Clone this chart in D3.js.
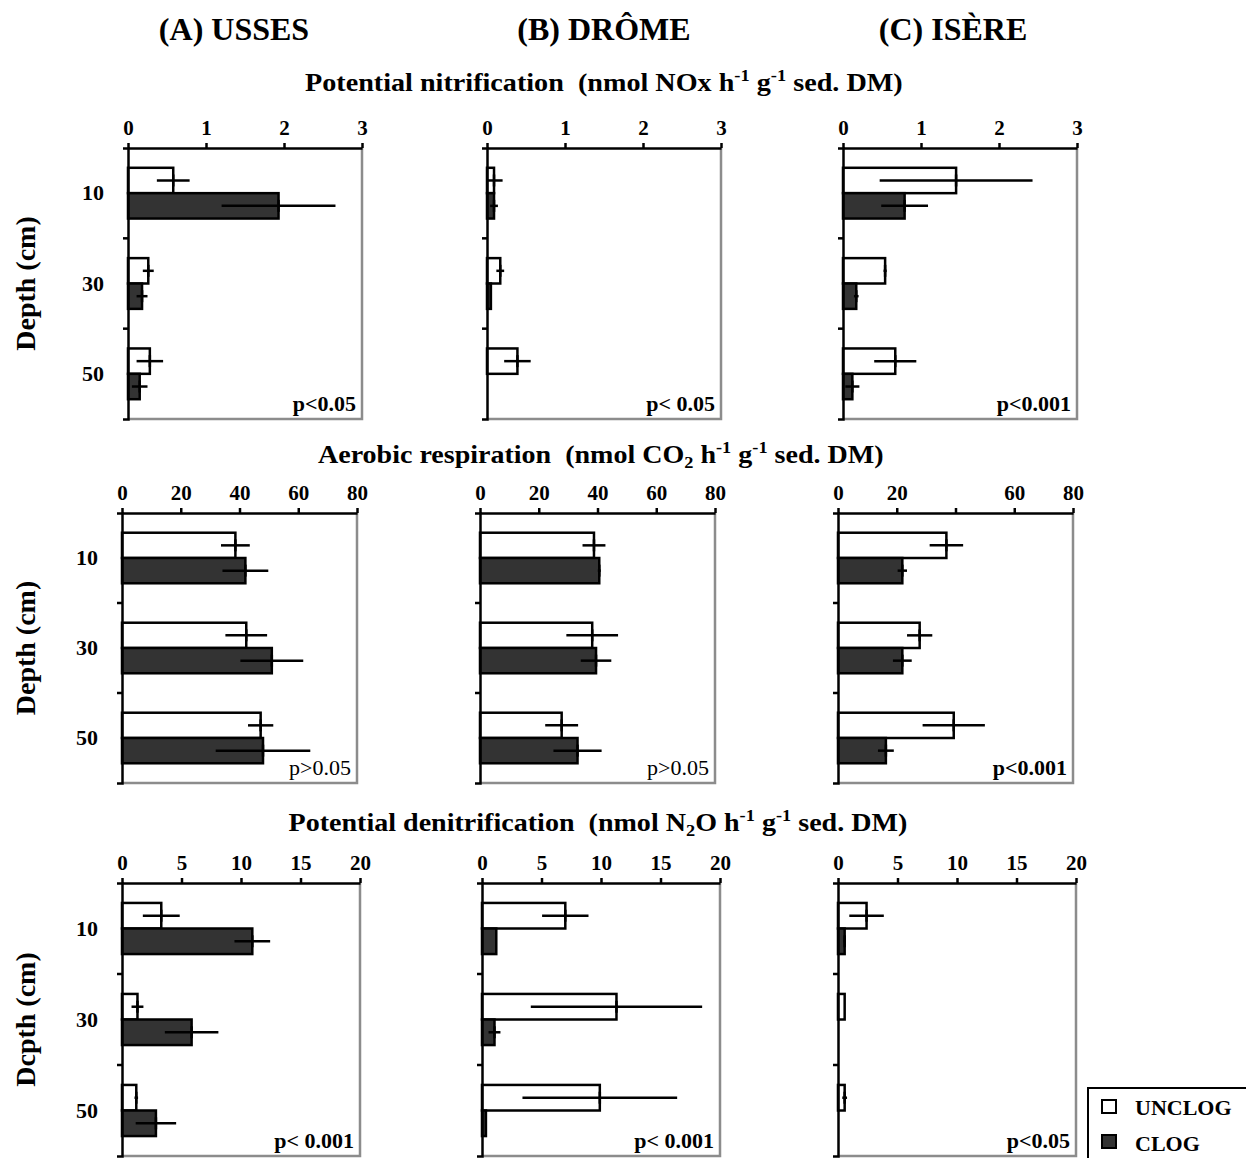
<!DOCTYPE html>
<html>
<head>
<meta charset="utf-8">
<script src="https://cdn.jsdelivr.net/npm/d3@7"></script>
<style>
    body { margin: 0; background: #fff; }
    text { font-family: "Liberation Serif", "Times New Roman", serif; font-weight: bold; fill: #000; }
</style>
</head>
<body>
<svg id="fig" width="1246" height="1158"></svg>
<script>
// Categories
const depths = ["10", "30", "50"];
const sites = ["(A) USSES", "(B) DRÔME", "(C) ISÈRE"];
const treatments = ["UNCLOG", "CLOG"];

// Potential nitrification, one array per site, values for 10 / 30 / 50 cm
const nitUnclog    = [[0.58, 0.26, 0.28], [0.09, 0.17, 0.39], [1.45, 0.54, 0.67]];
const nitUnclogErr = [[0.21, 0.07, 0.17], [0.11, 0.05, 0.17], [0.98, 0.02, 0.27]];
const nitClog      = [[1.93, 0.18, 0.15], [0.09, 0.05, 0], [0.79, 0.17, 0.12]];
const nitClogErr   = [[0.73, 0.07, 0.10], [0.05, 0, 0], [0.30, 0.03, 0.09]];

// Aerobic respiration
const respUnclog    = [[38.6, 42.3, 47.2], [38.8, 38.2, 27.8], [36.9, 27.8, 39.4]];
const respUnclogErr = [[4.9, 7.1, 4.3], [3.9, 8.8, 5.6], [5.7, 4.3, 10.6]];
const respClog      = [[42.0, 51.0, 48.0], [40.6, 39.5, 33.2], [21.9, 21.9, 16.3]];
const respClogErr   = [[7.8, 10.7, 16.1], [0.5, 5.2, 8.2], [1.6, 3.2, 2.7]];

// Potential denitrification
const denUnclog    = [[3.3, 1.3, 1.2], [7.0, 11.3, 9.9], [2.4, 0.56, 0.56]];
const denUnclogErr = [[1.55, 0.5, 0.15], [1.95, 7.2, 6.5], [1.45, 0, 0.2]];
const denClog      = [[10.95, 5.85, 2.85], [1.2, 1.05, 0.33], [0.56, 0, 0]];
const denClogErr   = [[1.5, 2.25, 1.7], [0, 0.5, 0], [0.1, 0, 0]];

// Tick labels
const nitTicks = [0, 1, 2, 3];
const respTicks = [0, 20, 40, 60, 80];
const respTickLabels = [["0", "20", "40", "60", "80"], ["0", "20", "40", "60", "80"], ["0", "20", "", "60", "80"]];
const denTicks = [0, 5, 10, 15, 20];

// Significance labels
const nitP = ["p<0.05", "p< 0.05", "p<0.001"];
const respP = ["p>0.05", "p>0.05", "p<0.001"];
const respPBold = [false, false, true];
const denP = ["p< 0.001", "p< 0.001", "p<0.05"];

const svg = d3.select("#fig");

// Layout of the three rows of panels
const rows = [
    {
        top: 148, h: 271, lefts: [128, 487, 843], w: 234, max: 3, ticks: nitTicks,
        labels: [nitTicks, nitTicks, nitTicks].map(t => t.map(String)),
        unclog: nitUnclog, unclogErr: nitUnclogErr, clog: nitClog, clogErr: nitClogErr,
        p: nitP, pBold: [true, true, true], ylab: "Depth (cm)",
        title: [["Potential nitrification  (nmol NOx h", 0], ["-1", 1], [" g", 0], ["-1", 1], [" sed. DM)", 0]],
        titleY: 91, titleX: 604, titleW: 598
    },
    {
        top: 513, h: 270, lefts: [122, 480, 838], w: 235, max: 80, ticks: respTicks,
        labels: respTickLabels,
        unclog: respUnclog, unclogErr: respUnclogErr, clog: respClog, clogErr: respClogErr,
        p: respP, pBold: respPBold, ylab: "Depth (cm)",
        title: [["Aerobic respiration  (nmol CO", 0], ["2", -1], [" h", 0], ["-1", 1], [" g", 0], ["-1", 1], [" sed. DM)", 0]],
        titleY: 463, titleX: 601, titleW: 566
    },
    {
        top: 883, h: 273, lefts: [122, 482, 838], w: 238, max: 20, ticks: denTicks,
        labels: [denTicks, denTicks, denTicks].map(t => t.map(String)),
        unclog: denUnclog, unclogErr: denUnclogErr, clog: denClog, clogErr: denClogErr,
        p: denP, pBold: [true, true, true], ylab: "Dcpth (cm)",
        title: [["Potential denitrification  (nmol N", 0], ["2", -1], ["O h", 0], ["-1", 1], [" g", 0], ["-1", 1], [" sed. DM)", 0]],
        titleY: 831, titleX: 598, titleW: 619
    }
];

// Site headers
const headerX = [234, 604, 953];
svg.selectAll(".site")
    .data(sites)
    .enter()
    .append("text")
    .attr("class", "site")
    .attr("x", (d, i) => headerX[i])
    .attr("y", 40)
    .attr("text-anchor", "middle")
    .style("font-size", "32px")
    .text(d => d);

function drawTitle(r) {
    let t = svg.append("text")
        .attr("y", r.titleY)
        .style("font-size", "26px")
        .style("white-space", "pre");
    let shift = 0;
    r.title.forEach(function(part) {
        let target = part[1] === 1 ? -10 : (part[1] === -1 ? 5 : 0);
        t.append("tspan")
            .attr("dy", target - shift)
            .style("font-size", part[1] === 0 ? "26px" : "17px")
            .text(part[0]);
        shift = target;
    });
    let len = t.node().getComputedTextLength();
    let s = r.titleW / len;
    t.attr("x", 0)
        .attr("transform", "translate(" + (r.titleX - r.titleW / 2) + ",0) scale(" + s + ",1)");
}

function drawPanel(r, col) {
    let w = r.w, h = r.h;
    let g = svg.append("g").attr("transform", "translate(" + r.lefts[col] + "," + r.top + ")");

    let x = d3.scaleLinear().domain([0, r.max]).range([0, w]);
    let yBand = d3.scaleBand().domain(depths).range([0, h]);
    let ySub = d3.scaleBand().domain(treatments).range([0, yBand.bandwidth()]).paddingOuter(0.78);

    let bars = [];
    depths.forEach(function(d, i) {
        bars.push({depth: d, t: "UNCLOG", m: r.unclog[col][i], e: r.unclogErr[col][i]});
        bars.push({depth: d, t: "CLOG", m: r.clog[col][i], e: r.clogErr[col][i]});
    });

    // Bars
    g.selectAll("rect.bar")
        .data(bars.filter(d => d.m > 0))
        .enter()
        .append("rect")
        .attr("class", "bar")
        .attr("x", x(0))
        .attr("y", d => yBand(d.depth) + ySub(d.t))
        .attr("width", d => x(d.m) - x(0))
        .attr("height", ySub.bandwidth())
        .attr("fill", d => d.t === "CLOG" ? "#333" : "#fff")
        .attr("stroke", "#000")
        .attr("stroke-width", 2.5);

    // Error bars (horizontal line plus a short mark at the mean)
    let errs = bars.filter(d => d.m > 0 && d.e > 0);
    let cy = d => yBand(d.depth) + ySub(d.t) + ySub.bandwidth() / 2;
    g.selectAll("line.err")
        .data(errs)
        .enter()
        .append("line")
        .attr("class", "err")
        .attr("x1", d => x(Math.max(0, d.m - d.e)))
        .attr("x2", d => x(d.m + d.e))
        .attr("y1", cy)
        .attr("y2", cy)
        .attr("stroke", "#000")
        .attr("stroke-width", 2.5);
    g.selectAll("line.mark")
        .data(errs)
        .enter()
        .append("line")
        .attr("class", "mark")
        .attr("x1", d => x(d.m))
        .attr("x2", d => x(d.m))
        .attr("y1", d => cy(d) - 6)
        .attr("y2", d => cy(d) + 6)
        .attr("stroke", "#000")
        .attr("stroke-width", 2.5);

    // Grey right and bottom frame
    g.append("path")
        .attr("d", "M" + w + ",0V" + h + "H0")
        .attr("fill", "none")
        .attr("stroke", "#8c8c8c")
        .attr("stroke-width", 2.5);

    // Top axis
    let labels = r.labels[col];
    let top = g.append("g")
        .call(d3.axisTop(x).tickValues(r.ticks).tickSize(5).tickSizeOuter(0).tickPadding(8)
            .tickFormat((d, i) => labels[i]));
    top.attr("font-family", null).attr("font-size", null);
    top.select(".domain").attr("stroke-width", 2.5);
    top.selectAll(".tick line").attr("stroke-width", 2.5);
    top.selectAll(".tick text").style("font-size", "21px");

    // Left axis: labels at band centres, ticks at band limits
    let left = g.append("g")
        .call(d3.axisLeft(yBand).tickSize(0).tickSizeOuter(5).tickPadding(24)
            .tickFormat(d => col === 0 ? d : ""));
    left.attr("font-family", null).attr("font-size", null);
    left.select(".domain").attr("stroke-width", 2.5);
    left.selectAll(".tick text").style("font-size", "22px");
    left.selectAll("line.sep")
        .data(depths.slice(1))
        .enter()
        .append("line")
        .attr("class", "sep")
        .attr("x1", -5)
        .attr("x2", 0)
        .attr("y1", d => yBand(d))
        .attr("y2", d => yBand(d))
        .attr("stroke", "#000")
        .attr("stroke-width", 2.5);

    // Significance
    g.append("text")
        .attr("x", w - 6)
        .attr("y", h - 8)
        .attr("text-anchor", "end")
        .style("font-size", "22px")
        .style("font-weight", r.pBold[col] ? "bold" : "normal")
        .style("white-space", "pre")
        .text(r.p[col]);
}

rows.forEach(function(r) {
    drawTitle(r);
    [0, 1, 2].forEach(c => drawPanel(r, c));
    svg.append("text")
        .attr("transform", "translate(35," + (r.top + r.h / 2) + ") rotate(-90)")
        .attr("text-anchor", "middle")
        .style("font-size", "28px")
        .text(r.ylab);
});

// Legend
let legend = svg.append("g").attr("transform", "translate(1088,1088)");
legend.append("rect")
    .attr("width", 170)
    .attr("height", 80)
    .attr("fill", "#fff")
    .attr("stroke", "#000")
    .attr("stroke-width", 2);
legend.selectAll("rect.key")
    .data(treatments)
    .enter()
    .append("rect")
    .attr("class", "key")
    .attr("x", 14)
    .attr("y", (d, i) => 12 + i * 35)
    .attr("width", 14)
    .attr("height", 13)
    .attr("fill", d => d === "CLOG" ? "#333" : "#fff")
    .attr("stroke", "#000")
    .attr("stroke-width", 2);
legend.selectAll("text")
    .data(treatments)
    .enter()
    .append("text")
    .attr("x", 47)
    .attr("y", (d, i) => 27 + i * 36)
    .style("font-size", "22px")
    .text(d => d);
</script>
</body>
</html>
